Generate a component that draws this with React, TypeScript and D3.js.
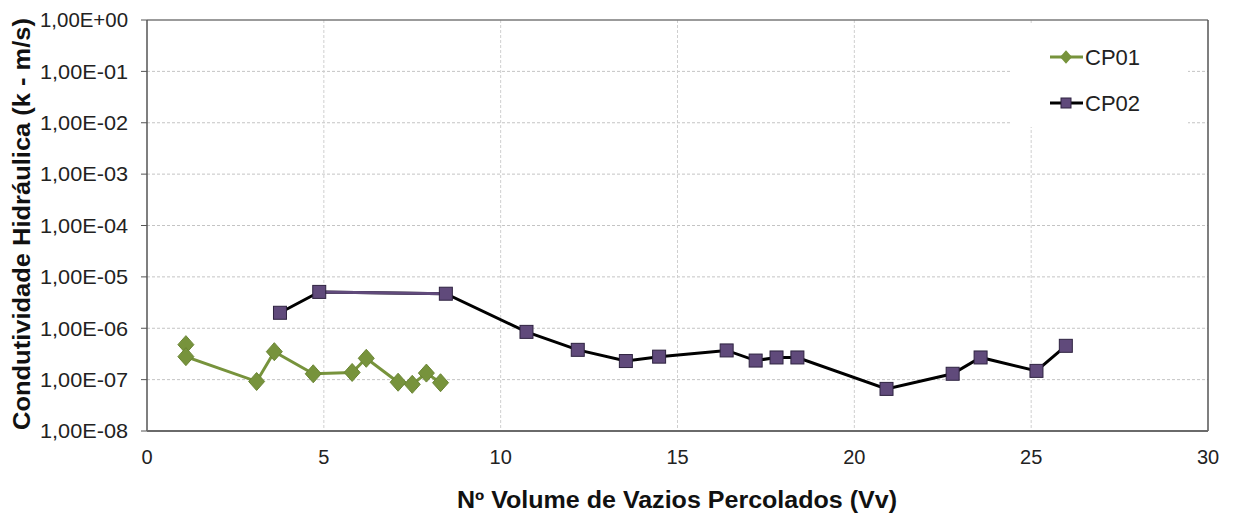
import React from "react";
import * as d3 from "d3";

// CP01 - green diamonds
const cp01X = [1.1, 1.1, 3.1, 3.6, 4.7, 5.8, 6.2, 7.1, 7.5, 7.9, 8.3];
const cp01K = [4.8e-7, 2.8e-7, 9.2e-8, 3.5e-7, 1.3e-7, 1.38e-7, 2.6e-7, 8.9e-8, 8.1e-8, 1.34e-7, 8.7e-8];

// CP02 - purple squares
const cp02X = [3.76, 4.87, 8.45, 10.73, 12.18, 13.54, 14.48, 16.39, 17.21, 17.8, 18.39, 20.91, 22.78, 23.57, 25.15, 25.98];
const cp02K = [2.0e-6, 5.1e-6, 4.7e-6, 8.5e-7, 3.8e-7, 2.3e-7, 2.8e-7, 3.7e-7, 2.35e-7, 2.7e-7, 2.7e-7, 6.6e-8, 1.3e-7, 2.7e-7, 1.48e-7, 4.55e-7];

const xTicks = [0, 5, 10, 15, 20, 25, 30];
const yTicks = [1, 1e-1, 1e-2, 1e-3, 1e-4, 1e-5, 1e-6, 1e-7, 1e-8];
const seriesNames = ["CP01", "CP02"];

const W = 1234;
const H = 516;
const left = 147, right = 1208, top = 20, bottom = 431;

const fmtE = (v: number) => {
  const e = Math.round(Math.log10(v));
  const sign = e < 0 ? "-" : "+";
  return "1,00E" + sign + String(Math.abs(e)).padStart(2, "0");
};

export default function App() {
  const x = d3.scaleLinear().domain([0, 30]).range([left, right]);
  const y = d3.scaleLog().domain([1e-8, 1]).range([bottom, top]);

  const line = d3.line<[number, number]>()
    .x(d => x(d[0]))
    .y(d => y(d[1]));

  const cp01 = cp01X.map((v, i) => [v, cp01K[i]] as [number, number]);
  const cp02 = cp02X.map((v, i) => [v, cp02K[i]] as [number, number]);

  const green = "#77933C";
  const purple = "#604A7B";
  const font = "Arial, 'Liberation Sans', sans-serif";

  // diamond ~16px wide, ~18px tall
  const diamond = "M0,-9L8,0L0,9L-8,0Z";

  return (
    <svg width={W} height={H} style={{ position: "fixed", left: 0, top: 0, background: "#fff" }}>
      <rect x={0} y={0} width={W} height={H} fill="#fff" />

      {/* grid */}
      {yTicks.slice(1, -1).map(t => (
        <line key={"gy" + t} x1={left} x2={right} y1={y(t)} y2={y(t)}
          stroke="#c4c4c4" strokeWidth={1} strokeDasharray="3,2" />
      ))}
      {xTicks.slice(1, -1).map(t => (
        <line key={"gx" + t} x1={x(t)} x2={x(t)} y1={top} y2={bottom}
          stroke="#cfcfcf" strokeWidth={1} strokeDasharray="3,2" />
      ))}

      {/* frame */}
      <line x1={left} x2={right} y1={top} y2={top} stroke="#7a7a7a" strokeWidth={1.5} />
      <line x1={right} x2={right} y1={top} y2={bottom} stroke="#555" strokeWidth={1.5} />
      <line x1={left} x2={left} y1={top} y2={bottom} stroke="#555" strokeWidth={1.5} />
      <line x1={left} x2={right} y1={bottom} y2={bottom} stroke="#6a6a6a" strokeWidth={2} />

      {/* y ticks */}
      {yTicks.map(t => (
        <g key={"yt" + t}>
          <line x1={left - 6} x2={left} y1={y(t)} y2={y(t)} stroke="#555" />
          <text x={128} y={y(t)} dy="0.35em" textAnchor="end" fontFamily={font}
            fontSize={21} fill="#222" textLength={88} lengthAdjust="spacingAndGlyphs">{fmtE(t)}</text>
        </g>
      ))}

      {/* x ticks */}
      {xTicks.map(t => (
        <text key={"xt" + t} x={x(t)} y={464} textAnchor="middle" fontFamily={font}
          fontSize={20} fill="#222">{t}</text>
      ))}

      {/* axis titles */}
      <text x={677} y={508} textAnchor="middle" fontFamily={font} fontWeight="bold"
        fontSize={23} fill="#111" textLength={440} lengthAdjust="spacingAndGlyphs">
        Nº Volume de Vazios Percolados (Vv)
      </text>
      <text transform="translate(30,224) rotate(-90)" textAnchor="middle" fontFamily={font}
        fontWeight="bold" fontSize={23} fill="#111" textLength={412} lengthAdjust="spacingAndGlyphs">
        Condutividade Hidráulica  (k - m/s)
      </text>

      {/* CP01 */}
      <path d={line(cp01) || ""} fill="none" stroke={green} strokeWidth={3} />
      {cp01.map((d, i) => (
        <path key={"c1" + i} d={diamond} transform={`translate(${x(d[0])},${y(d[1])})`}
          fill={green} stroke="#6a8534" strokeWidth={1} />
      ))}

      {/* CP02 */}
      <path d={line(cp02) || ""} fill="none" stroke="#000" strokeWidth={3} />
      <path d={line(cp02.slice(1, 3)) || ""} fill="none" stroke={purple} strokeWidth={3} />
      {cp02.map((d, i) => (
        <rect key={"c2" + i} x={x(d[0]) - 6.5} y={y(d[1]) - 6.5} width={13} height={13}
          fill={purple} stroke="#2e2340" strokeWidth={1} />
      ))}

      {/* legend */}
      <rect x={1010} y={25} width={178} height={102} fill="#fff" />
      <g>
        <line x1={1050} x2={1083} y1={57} y2={57} stroke={green} strokeWidth={3} />
        <path d={diamond} transform="translate(1066,57) scale(0.75)" fill={green} />
        <text x={1085} y={65} fontFamily={font} fontSize={22} fill="#222">{seriesNames[0]}</text>
        <line x1={1050} x2={1083} y1={103} y2={103} stroke="#000" strokeWidth={3} />
        <rect x={1061} y={98} width={10} height={10} fill={purple} stroke="#2e2340" />
        <text x={1085} y={111} fontFamily={font} fontSize={22} fill="#222">{seriesNames[1]}</text>
      </g>
    </svg>
  );
}
